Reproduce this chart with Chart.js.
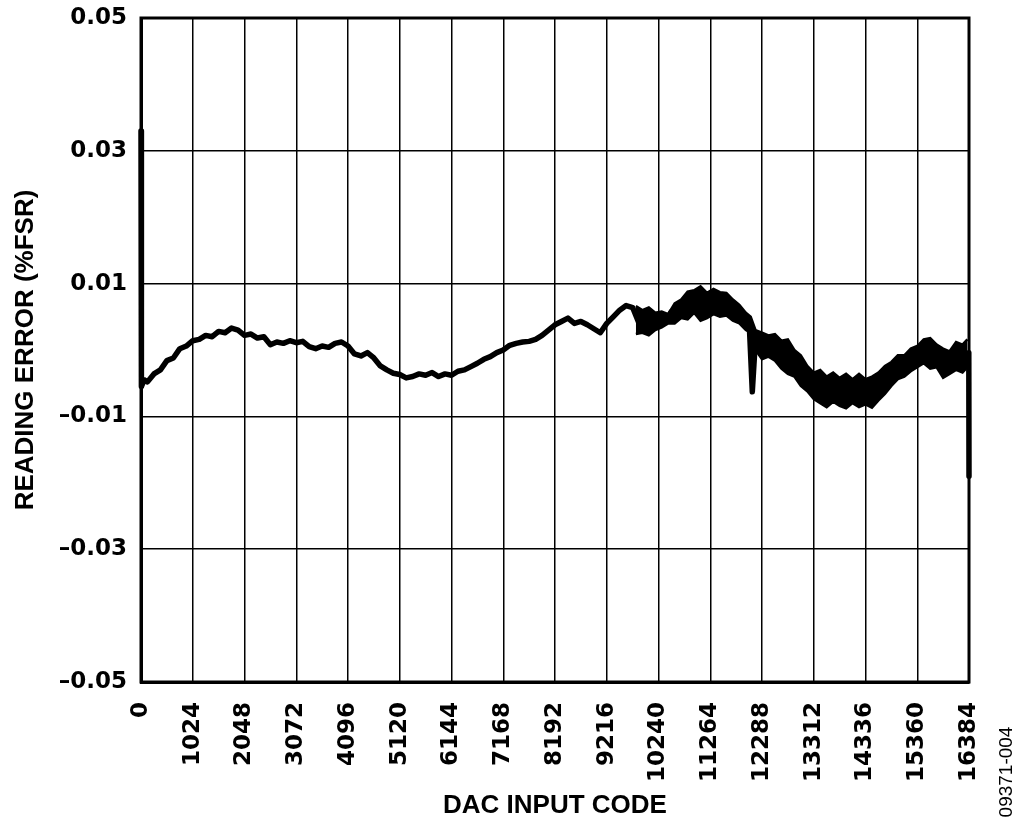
<!DOCTYPE html>
<html>
<head>
<meta charset="utf-8">
<script src="https://cdn.jsdelivr.net/npm/chart.js@4/dist/chart.umd.min.js"></script>
<style>
  html, body { margin: 0; padding: 0; background: #fff; }
  #wrap { width: 1024px; height: 827px; position: relative; }
</style>
</head>
<body>
<div id="wrap"><canvas id="c" width="1024" height="827"></canvas></div>
<script>
// ---- data ----
const codes = [
  0, 8, 64, 128, 256, 384, 512, 640, 768, 896,
  1024, 1152, 1280, 1408, 1536, 1664, 1792, 1920, 2048, 2176,
  2304, 2432, 2560, 2688, 2816, 2944, 3072, 3200, 3328, 3456,
  3584, 3712, 3840, 3968, 4096, 4224, 4352, 4480, 4608, 4736,
  4864, 4992, 5120, 5248, 5376, 5504, 5632, 5760, 5888, 6016,
  6144, 6272, 6400, 6528, 6656, 6784, 6912, 7040, 7168, 7296,
  7424, 7552, 7680, 7808, 7936, 8064, 8192, 8320, 8448, 8576,
  8704, 8832, 8960, 9088, 9216, 9344, 9472, 9600, 9728, 9856,
  9984, 10112, 10240, 10368, 10496, 10624, 10752, 10880, 11008, 11136,
  11264, 11392, 11520, 11648, 11776, 11904, 12032, 12096, 12160, 12288,
  12416, 12544, 12672, 12800, 12928, 13056, 13184, 13312, 13440, 13568,
  13696, 13824, 13952, 14080, 14208, 14336, 14464, 14592, 14720, 14848,
  14976, 15104, 15232, 15360, 15488, 15616, 15744, 15872, 16000, 16128,
  16256, 16320, 16380, 16384
];
const readingError = [
  0.0330, -0.0055, -0.0045, -0.0048, -0.0036, -0.0030, -0.0016, -0.0012, 0.0002, 0.0006,
  0.0014, 0.0016, 0.0022, 0.0020, 0.0028, 0.0026, 0.0033, 0.0030, 0.0022, 0.0024,
  0.0018, 0.0020, 0.0008, 0.0012, 0.0010, 0.0014, 0.0011, 0.0013, 0.0005, 0.0002,
  0.0006, 0.0004, 0.0010, 0.0012, 0.0006, -0.0006, -0.0009, -0.0004, -0.0012, -0.0024,
  -0.0030, -0.0035, -0.0037, -0.0042, -0.0040, -0.0036, -0.0038, -0.0034, -0.0040, -0.0036,
  -0.0038, -0.0032, -0.0030, -0.0025, -0.0020, -0.0014, -0.0010, -0.0004, 0.0000, 0.0007,
  0.0010, 0.0012, 0.0013, 0.0016, 0.0022, 0.0030, 0.0038, 0.0043, 0.0048, 0.0040,
  0.0043, 0.0038, 0.0032, 0.0026, 0.0040, 0.0050, 0.0060, 0.0067, 0.0064, 0.0040,
  0.0050, 0.0035, 0.0048, 0.0042, 0.0058, 0.0062, 0.0072, 0.0068, 0.0082, 0.0066,
  0.0075, 0.0070, 0.0078, 0.0068, 0.0062, 0.0048, 0.0045, -0.0063, 0.0018, 0.0008,
  0.0010, 0.0006, -0.0008, -0.0012, -0.0025, -0.0030, -0.0045, -0.0055, -0.0060, -0.0062,
  -0.0058, -0.0062, -0.0064, -0.0060, -0.0062, -0.0066, -0.0062, -0.0056, -0.0045, -0.0032,
  -0.0026, -0.0022, -0.0014, -0.0008, -0.0004, -0.0004, -0.0010, -0.0020, -0.0020, -0.0010,
  -0.0012, -0.0006, -0.0004, -0.0190
];
// noise band (upper / lower edges) where the trace is wide
const bandCodes = [
  9792, 9920, 10048, 10176, 10304, 10432, 10560, 10688, 10816, 10944,
  11072, 11200, 11328, 11456, 11584, 11712, 11840, 11968, 12064, 12160,
  12288, 12416, 12544, 12672, 12800, 12928, 13056, 13184, 13312, 13440,
  13568, 13696, 13824, 13952, 14080, 14208, 14336, 14464, 14592, 14720,
  14848, 14976, 15104, 15232, 15360, 15488, 15616, 15744, 15872, 16000,
  16128, 16256, 16352
];
const bandUpper = [
  0.0066, 0.0060, 0.0064, 0.0056, 0.0058, 0.0054, 0.0070, 0.0076, 0.0088, 0.0090,
  0.0096, 0.0086, 0.0092, 0.0087, 0.0086, 0.0076, 0.0068, 0.0056, 0.0050, 0.0030,
  0.0026, 0.0022, 0.0024, 0.0014, 0.0016, 0.0000, -0.0008, -0.0024, -0.0034, -0.0030,
  -0.0040, -0.0034, -0.0042, -0.0036, -0.0044, -0.0036, -0.0044, -0.0040, -0.0034, -0.0024,
  -0.0018, -0.0008, -0.0008, 0.0002, 0.0006, 0.0016, 0.0018, 0.0008, 0.0002, -0.0002,
  0.0012, 0.0008, 0.0016
];
const bandLower = [
  0.0024, 0.0026, 0.0022, 0.0030, 0.0034, 0.0040, 0.0040, 0.0048, 0.0046, 0.0056,
  0.0044, 0.0048, 0.0054, 0.0050, 0.0052, 0.0044, 0.0040, 0.0030, 0.0026, 0.0000,
  -0.0014, -0.0010, -0.0016, -0.0028, -0.0036, -0.0040, -0.0054, -0.0062, -0.0074, -0.0080,
  -0.0086, -0.0078, -0.0084, -0.0088, -0.0080, -0.0086, -0.0082, -0.0087, -0.0076, -0.0066,
  -0.0054, -0.0044, -0.0040, -0.0032, -0.0026, -0.0020, -0.0028, -0.0026, -0.0042, -0.0036,
  -0.0030, -0.0034, -0.0026
];
const xTickValues = [0, 1024, 2048, 3072, 4096, 5120, 6144, 7168, 8192, 9216,
  10240, 11264, 12288, 13312, 14336, 15360, 16384];
const yTickValues = [-0.05, -0.03, -0.01, 0.01, 0.03, 0.05];
const xTitle = 'DAC INPUT CODE';
const yTitle = 'READING ERROR (%FSR)';
const figureId = '09371-004';

const points = codes.map((c, i) => ({ x: c, y: readingError[i] }));
const upperPts = bandCodes.map((c, i) => ({ x: c, y: bandUpper[i] }));
const lowerPts = bandCodes.map((c, i) => ({ x: c, y: bandLower[i] }));

const framePlugin = {
  id: 'frame',
  beforeDatasetsDraw(chart) {
    const { ctx, chartArea: a } = chart;
    ctx.save();
    ctx.strokeStyle = '#000';
    ctx.lineWidth = 3;
    ctx.strokeRect(a.left, a.top, a.right - a.left, a.bottom - a.top);
    ctx.restore();
  },
  afterDraw(chart) {
    const { ctx } = chart;
    ctx.save();
    ctx.translate(1007, 772);
    ctx.rotate(-Math.PI / 2);
    ctx.font = '19px "Liberation Sans", Arial, sans-serif';
    ctx.fillStyle = '#000';
    ctx.textAlign = 'center';
    ctx.textBaseline = 'middle';
    ctx.fillText(figureId, 0, 0);
    ctx.restore();
  }
};

const tickFont = { family: '"DejaVu Sans", sans-serif', size: 23, weight: 'bold' };
const titleFont = { family: '"Liberation Sans", Arial, sans-serif', size: 26, weight: 'bold' };

new Chart(document.getElementById('c'), {
  type: 'line',
  data: {
    datasets: [{
      data: points,
      borderColor: '#000',
      backgroundColor: '#000',
      borderWidth: 5.5,
      pointRadius: 0,
      tension: 0,
      clip: 4,
      fill: false,
      borderJoinStyle: 'round',
      borderCapStyle: 'round'
    }, {
      data: upperPts,
      borderColor: '#000',
      backgroundColor: '#000',
      borderWidth: 2.5,
      pointRadius: 0,
      tension: 0,
      fill: false
    }, {
      data: lowerPts,
      borderColor: '#000',
      backgroundColor: '#000',
      borderWidth: 2.5,
      pointRadius: 0,
      tension: 0,
      fill: '-1'
    }]
  },
  options: {
    responsive: false,
    animation: false,
    events: [],
    layout: { padding: { left: 0, top: 18, right: 55, bottom: 0 } },
    plugins: { legend: { display: false }, tooltip: { enabled: false } },
    scales: {
      x: {
        type: 'linear',
        min: 0, max: 16384,
        afterBuildTicks: s => { s.ticks = xTickValues.map(v => ({ value: v })); },
        afterFit: s => { s.height = 145; s.paddingLeft = 0; s.paddingRight = 0; },
        grid: { color: '#000', lineWidth: 1.5, drawTicks: false },
        border: { color: '#000', width: 3 },
        ticks: {
          color: '#000', font: tickFont, padding: 20,
          minRotation: 90, maxRotation: 90, autoSkip: false,
          callback: v => String(v)
        },
        title: { display: true, text: xTitle, color: '#000', font: titleFont,
                 padding: { top: 0, bottom: 6 } }
      },
      y: {
        type: 'linear',
        min: -0.05, max: 0.05,
        afterBuildTicks: s => { s.ticks = yTickValues.map(v => ({ value: v })); },
        afterFit: s => { s.width = 141; s.paddingTop = 0; s.paddingBottom = 0; },
        grid: { color: '#000', lineWidth: 1.5, drawTicks: false },
        border: { color: '#000', width: 3 },
        ticks: {
          color: '#000', font: tickFont, padding: 14,
          callback: v => (v < 0 ? '\u2013' : '') + Math.abs(v).toFixed(2)
        },
        title: { display: true, text: yTitle, color: '#000', font: titleFont,
                 padding: { top: 10, bottom: 0 } }
      }
    }
  },
  plugins: [framePlugin]
});
</script>
</body>
</html>
